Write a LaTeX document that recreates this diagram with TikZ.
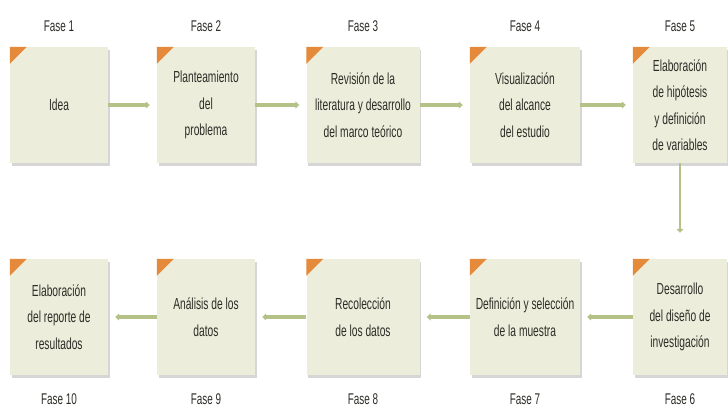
\documentclass[tikz,border=0pt]{standalone}
\usepackage{fontspec}
\setmainfont[FakeStretch=0.64]{Liberation Sans}
\usetikzlibrary{arrows.meta,shadows}
\definecolor{boxfill}{RGB}{237,237,219}
\definecolor{cornerorange}{RGB}{228,138,58}
\definecolor{flowgreen}{RGB}{180,194,136}
\definecolor{inktext}{RGB}{45,45,40}
\tikzset{
  phase/.style={draw=none, fill=boxfill, minimum height=116pt, inner sep=2pt,
    align=center, text=inktext, font=\fontsize{16}{26.5}\selectfont,
    drop shadow={shadow xshift=1.5pt, shadow yshift=-2.5pt, fill=black!35, opacity=.45}},
  phaselabel/.style={text=inktext, font=\fontsize{15.5}{17}\selectfont},
  flow/.style={draw=flowgreen, line width=3.4pt,
    -{Triangle[length=4pt,width=7pt]}, shorten >=7pt},
  corner/.style={fill=cornerorange}
}
\newcommand{\cornermark}[1]{\fill[corner] (#1.north west) -- ++(17,0) -- ++(-17,17) -- cycle;}
\begin{document}
\begin{tikzpicture}[x=1pt,y=-1pt]
\useasboundingbox[fill=white] (0,0) rectangle (728,410);

% upper row: phases 1 to 5
\node[phase, minimum width=98pt]  (f1) at (59,105)  {Idea};
\node[phase, minimum width=98pt]  (f2) at (206,105) {Planteamiento\\del\\problema};
\node[phase, minimum width=113pt] (f3) at (363,105) {Revisión de la\\literatura y desarrollo\\del marco teórico};
\node[phase, minimum width=110pt] (f4) at (525,105) {Visualización\\del alcance\\del estudio};
\node[phase, minimum width=94pt]  (f5) at (680,105) {Elaboración\\de hipótesis\\y definición\\de variables};

% lower row: phases 6 to 10
\node[phase, minimum width=94pt]  (f6)  at (680,317) {Desarrollo\\del diseño de\\investigación};
\node[phase, minimum width=110pt] (f7)  at (525,317) {Definición y selección\\de la muestra};
\node[phase, minimum width=113pt] (f8)  at (363,317) {Recolección\\de los datos};
\node[phase, minimum width=98pt]  (f9)  at (206,317) {Análisis de los\\datos};
\node[phase, minimum width=98pt]  (f10) at (59,317)  {Elaboración\\del reporte de\\resultados};

% orange corner marks
\foreach \n in {f1,f2,f3,f4,f5,f6,f7,f8,f9,f10} {\cornermark{\n}}

% phase labels
\node[phaselabel] (l1) at (59,26)  {Fase 1};
\node[phaselabel] (l2) at (206,26) {Fase 2};
\node[phaselabel] (l3) at (363,26) {Fase 3};
\node[phaselabel] (l4) at (525,26) {Fase 4};
\node[phaselabel] (l5) at (680,26) {Fase 5};
\node[phaselabel] (l6)  at (680,399) {Fase 6};
\node[phaselabel] (l7)  at (525,399) {Fase 7};
\node[phaselabel] (l8)  at (363,399) {Fase 8};
\node[phaselabel] (l9)  at (206,399) {Fase 9};
\node[phaselabel] (l10) at (59,399)  {Fase 10};

% connectors
\draw[flow] (f1) -- (f2);
\draw[flow] (f2) -- (f3);
\draw[flow] (f3) -- (f4);
\draw[flow] (f4) -- (f5);
\draw[flow, line width=2.2pt, shorten >=26pt] (f5) -- (f6);
\draw[flow] (f6) -- (f7);
\draw[flow] (f7) -- (f8);
\draw[flow] (f8) -- (f9);
\draw[flow] (f9) -- (f10);
\end{tikzpicture}
\end{document}
